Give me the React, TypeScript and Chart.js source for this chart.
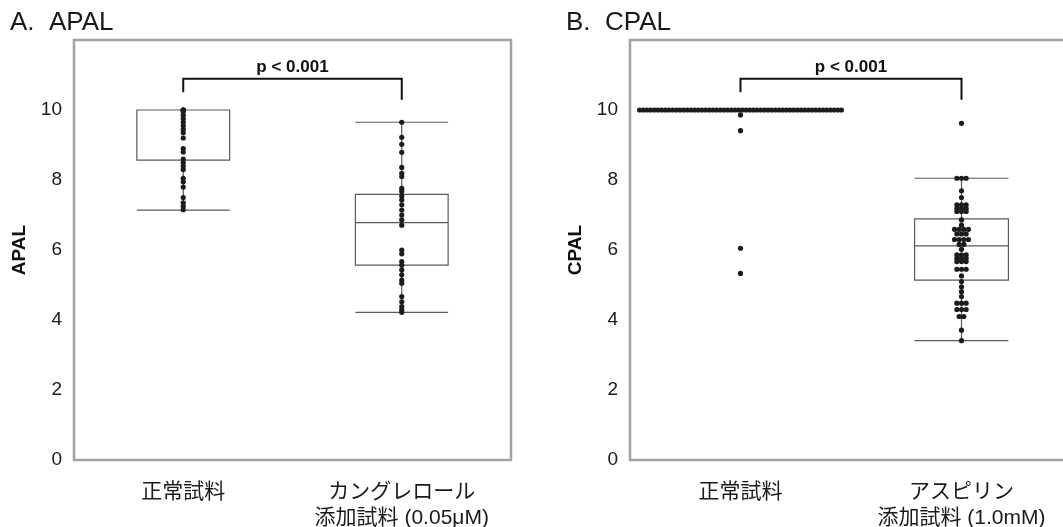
import React, { useEffect, useRef } from "react";
import { Chart, registerables } from "chart.js";

Chart.register(...registerables);

// ---------------- data ----------------
const CATEGORIES_A: (string | string[])[] = ["正常試料", ["カングレロール", "添加試料 (0.05μM)"]];
const CATEGORIES_B: (string | string[])[] = ["正常試料", ["アスピリン", "添加試料 (1.0mM)"]];
const Y_TICKS = [0, 2, 4, 6, 8, 10];

const APAL_NORMAL = [
  10, 10, 10, 10, 9.95, 9.85, 9.75, 9.65, 9.55, 9.45, 9.35, 9.2, 8.9, 8.8, 8.6, 8.5, 8.4, 8.3,
  8.05, 7.95, 7.8, 7.5, 7.35, 7.25, 7.15,
];
const APAL_CANGRELOR = [
  9.65, 9.22, 9.02, 8.79, 8.36, 8.19, 8.1, 7.76, 7.67, 7.54, 7.43, 7.29, 7.14, 7.0, 6.86, 6.71,
  6.0, 5.89, 5.67, 5.57, 5.43, 5.29, 5.14, 5.05, 4.67, 4.52, 4.38, 4.29, 4.22,
];
const CPAL_NORMAL = [
  ...Array(56).fill(10),
  9.86, 9.41, 6.05, 5.33,
];
const CPAL_ASPIRIN = [
  9.62,
  8.05, 8.05, 8.05,
  7.69, 7.5,
  7.29, 7.29, 7.29, 7.19, 7.19, 7.19, 7.1, 7.1, 7.1,
  6.86, 6.71,
  6.59, 6.59, 6.59, 6.59, 6.46, 6.46, 6.46, 6.3, 6.3, 6.3, 6.3, 6.16, 6.16, 6.02,
  5.86, 5.86, 5.86, 5.76, 5.76, 5.76, 5.67, 5.67, 5.67, 5.45, 5.45, 5.45,
  5.26, 5.1, 4.95, 4.81, 4.67,
  4.48, 4.48, 4.48, 4.3, 4.3, 4.3, 4.1, 4.1,
  3.71, 3.41,
];

// box stats: [min, q1, median, q3, max]
const APAL_BOX_NORMAL = [7.14, 8.57, 10, 10, 10];
const APAL_BOX_CANGRELOR = [4.22, 5.57, 6.78, 7.59, 9.65];
const CPAL_BOX_NORMAL = [10, 10, 10, 10, 10];
const CPAL_BOX_ASPIRIN = [3.41, 5.14, 6.12, 6.89, 8.05];

const P_LABEL = "p < 0.001";
// bracket: [line level, left drop end, right drop end, label level]
const BRACKET_LEVELS = [10.89, 10.51, 10.29, 11.22];

// ---------------- layout helpers ----------------
const UNIT_PX = 219;
const LATIN = "'Liberation Sans', Arial, sans-serif";
const MIXED = "'Liberation Sans', 'Noto Sans CJK JP', sans-serif";

function placePoints(values: number[], cat: number, spread: boolean) {
  if (!spread) return values.map((v) => ({ x: cat, y: v }));
  const groups = new Map<string, number[]>();
  values.forEach((v) => {
    const k = v.toFixed(2);
    if (!groups.has(k)) groups.set(k, []);
    groups.get(k)!.push(v);
  });
  const pts: { x: number; y: number }[] = [];
  groups.forEach((vs) => {
    const n = vs.length;
    const stepPx = n > 1 ? Math.min(4.6, 200 / (n - 1)) : 0;
    vs.forEach((v, i) => pts.push({ x: cat + ((i - (n - 1) / 2) * stepPx) / UNIT_PX, y: v }));
  });
  return pts;
}

type PanelProps = {
  left: number;
  padRight: number;
  title: string;
  yTitle: string;
  cats: (string | string[])[];
  series: number[][];
  boxes: number[][];
  spread: boolean;
};

const CANVAS_W = 530;
const CANVAS_H = 527;

function Panel({ left, padRight, title, yTitle, cats, series, boxes, spread }: PanelProps) {
  const ref = useRef<HTMLCanvasElement>(null);

  useEffect(() => {
    const boxHalf = 46.5 / UNIT_PX;

    const framePlugin = {
      id: "frame",
      afterDraw(chart: any) {
        const { ctx, chartArea: a } = chart;
        ctx.save();
        ctx.strokeStyle = "#a2a2a2";
        ctx.lineWidth = 2.5;
        ctx.strokeRect(a.left, a.top, a.right - a.left, a.bottom - a.top);
        ctx.restore();
      },
    };

    const boxPlugin = {
      id: "boxes",
      beforeDatasetsDraw(chart: any) {
        const { ctx } = chart;
        const xs = chart.scales.x;
        const ys = chart.scales.y;
        ctx.save();
        ctx.strokeStyle = "#5a5a5a";
        ctx.lineWidth = 1.2;
        boxes.forEach((b, i) => {
          const [mn, q1, md, q3, mx] = b;
          const xc = xs.getPixelForValue(i);
          const xl = xs.getPixelForValue(i - boxHalf);
          const xr = xs.getPixelForValue(i + boxHalf);
          const p = (v: number) => ys.getPixelForValue(v);
          ctx.beginPath();
          ctx.rect(xl, p(q3), xr - xl, p(q1) - p(q3));
          ctx.moveTo(xl, p(md));
          ctx.lineTo(xr, p(md));
          ctx.moveTo(xc, p(q1));
          ctx.lineTo(xc, p(mn));
          ctx.moveTo(xc, p(q3));
          ctx.lineTo(xc, p(mx));
          ctx.moveTo(xl, p(mn));
          ctx.lineTo(xr, p(mn));
          ctx.moveTo(xl, p(mx));
          ctx.lineTo(xr, p(mx));
          ctx.stroke();
        });
        ctx.restore();
      },
    };

    const bracketPlugin = {
      id: "bracket",
      afterDatasetsDraw(chart: any) {
        const { ctx } = chart;
        const xs = chart.scales.x;
        const ys = chart.scales.y;
        const [lv, ld, rd, tv] = BRACKET_LEVELS;
        const x0 = xs.getPixelForValue(0);
        const x1 = xs.getPixelForValue(1);
        ctx.save();
        ctx.strokeStyle = "#111";
        ctx.lineWidth = 2;
        ctx.beginPath();
        ctx.moveTo(x0, ys.getPixelForValue(ld));
        ctx.lineTo(x0, ys.getPixelForValue(lv));
        ctx.lineTo(x1, ys.getPixelForValue(lv));
        ctx.lineTo(x1, ys.getPixelForValue(rd));
        ctx.stroke();
        ctx.fillStyle = "#111";
        ctx.font = `bold 17px ${LATIN}`;
        ctx.textAlign = "center";
        ctx.textBaseline = "middle";
        ctx.fillText(P_LABEL, (x0 + x1) / 2, ys.getPixelForValue(tv));
        ctx.restore();
      },
    };

    const titlePlugin = {
      id: "panelTitle",
      afterDraw(chart: any) {
        const { ctx } = chart;
        ctx.save();
        ctx.fillStyle = "#1a1a1a";
        ctx.font = `26px ${LATIN}`;
        ctx.textAlign = "left";
        ctx.textBaseline = "alphabetic";
        ctx.fillText(title, 10, 30);
        ctx.restore();
      },
    };

    const chart = new Chart(ref.current!, {
      type: "scatter",
      data: {
        datasets: series.map((vals, i) => ({
          data: placePoints(vals, i, spread),
          backgroundColor: "#1c1c1c",
          borderWidth: 0,
          pointRadius: 2.6,
        })),
      },
      options: {
        animation: false,
        responsive: false,
        events: [],
        layout: { padding: { top: 40, right: padRight, left: 0, bottom: 0 } },
        plugins: { legend: { display: false }, tooltip: { enabled: false } },
        scales: {
          x: {
            type: "linear",
            min: -0.5,
            max: 1.5,
            grid: { display: false, drawTicks: false },
            border: { display: false },
            afterBuildTicks: (axis: any) => {
              axis.ticks = cats.map((_, i) => ({ value: i }));
            },
            afterFit: (axis: any) => {
              axis.height = CANVAS_H - 460;
            },
            ticks: {
              padding: 20,
              maxRotation: 0,
              autoSkip: false,
              color: "#1a1a1a",
              font: { family: MIXED, size: 21, lineHeight: 1.2 },
              callback: (v: any) => cats[Math.round(Number(v))] as any,
            },
          },
          y: {
            min: 0,
            max: 12,
            grid: { display: false, drawTicks: false },
            border: { display: false },
            afterBuildTicks: (axis: any) => {
              axis.ticks = Y_TICKS.map((v) => ({ value: v }));
            },
            afterFit: (axis: any) => {
              axis.width = 74;
            },
            ticks: {
              padding: 12,
              color: "#1a1a1a",
              font: { family: LATIN, size: 19 },
            },
            title: {
              display: true,
              text: yTitle,
              color: "#111",
              font: { family: LATIN, size: 19, weight: "bold" },
              padding: { top: 8, bottom: 0 },
            },
          },
        },
      },
      plugins: [framePlugin, boxPlugin, bracketPlugin, titlePlugin],
    } as any);

    return () => chart.destroy();
  }, []);

  return (
    <canvas
      ref={ref}
      width={CANVAS_W}
      height={CANVAS_H}
      style={{ position: "absolute", left, top: 0, width: CANVAS_W, height: CANVAS_H }}
    />
  );
}

export default function App() {
  return (
    <div
      style={{
        position: "fixed",
        left: 0,
        top: 0,
        width: 1063,
        height: 527,
        overflow: "hidden",
        background: "#fff",
      }}
    >
      <Panel
        left={0}
        padRight={19}
        title="A.  APAL"
        yTitle="APAL"
        cats={CATEGORIES_A}
        series={[APAL_NORMAL, APAL_CANGRELOR]}
        boxes={[APAL_BOX_NORMAL, APAL_BOX_CANGRELOR]}
        spread={false}
      />
      <Panel
        left={556}
        padRight={14}
        title="B.  CPAL"
        yTitle="CPAL"
        cats={CATEGORIES_B}
        series={[CPAL_NORMAL, CPAL_ASPIRIN]}
        boxes={[CPAL_BOX_NORMAL, CPAL_BOX_ASPIRIN]}
        spread={true}
      />
    </div>
  );
}
